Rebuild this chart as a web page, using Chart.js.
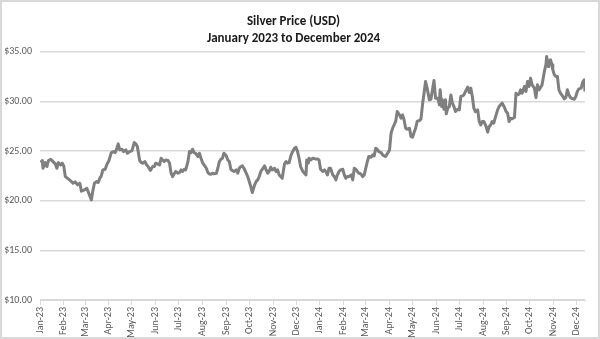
<!DOCTYPE html>
<html>
<head>
<meta charset="utf-8">
<title>Silver Price (USD)</title>
<script src="https://cdn.jsdelivr.net/npm/chart.js@4.4.1/dist/chart.umd.min.js"></script>
<style>
  html, body { margin: 0; padding: 0; background: #fff; }
  #wrap {
    width: 600px;
    height: 339px;
    box-sizing: border-box;
    border: 2px solid #d9d9d9;
    background: #fff;
  }
</style>
</head>
<body>
<div id="wrap"><canvas id="silverChart"></canvas></div>
<script>
// days since 1 Jan 2023
const days = [
  1, 3, 4, 7, 9, 11, 14, 17, 20, 22, 24, 27, 29, 31, 33, 37, 41, 43, 46, 49,
  52, 54, 58, 61, 64, 67, 69, 71, 74, 76, 78, 80, 82, 85, 87, 90, 93, 96, 98, 100,
  102, 104, 107, 109, 112, 114, 117, 120, 123, 125, 127, 130, 132, 134, 137, 139, 141, 144, 147, 149,
  151, 153, 156, 158, 160, 162, 164, 167, 169, 171, 173, 175, 177, 180, 182, 184, 186, 188, 190, 193,
  195, 197, 199, 201, 203, 206, 208, 210, 212, 214, 217, 219, 221, 223, 225, 227, 230, 232, 234, 236,
  238, 240, 243, 245, 247, 249, 251, 253, 256, 258, 260, 262, 264, 266, 269, 271, 273, 275, 277, 280,
  282, 284, 286, 288, 290, 293, 295, 297, 299, 301, 303, 306, 308, 310, 312, 314, 316, 319, 321, 323,
  325, 327, 329, 332, 334, 336, 338, 340, 343, 345, 347, 348, 350, 351, 353, 356, 359, 362, 364, 366,
  369, 371, 373, 375, 377, 379, 382, 384, 386, 388, 390, 392, 395, 397, 399, 401, 403, 406, 408, 410,
  412, 414, 416, 419, 421, 423, 425, 427, 429, 432, 434, 436, 438, 440, 442, 445, 447, 449, 451, 453,
  456, 458, 460, 462, 464, 466, 469, 471, 473, 475, 477, 479, 482, 484, 486, 488, 490, 492, 495, 497,
  499, 501, 503, 505, 508, 510, 512, 514, 516, 519, 521, 522, 524, 525, 527, 529, 530, 532, 534, 536,
  538, 540, 542, 545, 547, 549, 551, 553, 555, 558, 560, 562, 564, 566, 568, 571, 573, 575, 577, 579,
  582, 584, 586, 588, 590, 592, 595, 597, 599, 601, 603, 606, 608, 610, 612, 614, 616, 619, 621, 623,
  625, 627, 629, 632, 634, 636, 638, 640, 642, 645, 647, 649, 651, 653, 655, 658, 660, 661, 663, 664,
  666, 668, 669, 671, 673, 675, 677, 679, 682, 684, 686, 688, 690, 692, 695, 697, 699, 701, 703, 706,
  708, 710, 711
];

const prices = [
  23.84, 24.05, 23.27, 23.84, 23.44, 24.05, 24.18, 23.94, 23.71, 23.27, 23.84, 23.61, 23.78, 23.51, 22.43, 22.2, 21.93, 21.76, 21.9, 21.6,
  21.76, 20.96, 21.09, 21.26, 20.69, 20.08, 21.02, 21.76, 21.93, 21.83, 22.27, 22.5, 23.1, 23.17, 23.61, 24.05, 24.85, 24.95, 24.85, 25.19,
  25.73, 25.12, 25.19, 24.95, 25.12, 24.78, 24.95, 25.05, 25.86, 25.73, 25.46, 24.05, 23.84, 23.78, 23.94, 23.61, 23.44, 23.04, 23.44, 23.44,
  23.78, 23.71, 23.61, 24.28, 24.11, 23.94, 24.11, 24.05, 23.78, 22.77, 22.43, 22.7, 22.94, 22.77, 22.84, 23.1, 22.94, 23.17, 23.1, 23.94,
  24.95, 24.85, 25.19, 24.85, 24.78, 24.45, 24.78, 24.28, 23.84, 23.61, 23.27, 22.84, 22.7, 22.67, 22.77, 22.7, 22.77, 23.27, 23.94, 24.18,
  24.28, 24.78, 24.52, 24.11, 23.94, 23.17, 23.04, 22.94, 23.1, 22.77, 23.27, 23.44, 23.51, 23.27, 22.77, 22.43, 21.93, 21.42, 20.82, 21.6,
  21.93, 22.1, 22.43, 22.94, 23.17, 23.51, 23.1, 22.77, 22.94, 23.37, 23.1, 23.27, 22.94, 23.1, 22.6, 22.43, 22.26, 23.71, 23.94, 23.78,
  23.84, 24.45, 24.85, 25.29, 25.39, 24.95, 24.28, 23.44, 22.94, 22.77, 22.6, 24.11, 23.78, 24.28, 24.11, 24.28, 24.21, 24.21, 24.11, 23.17,
  22.94, 23.1, 22.94, 22.6, 23.27, 23.27, 22.6, 22.43, 22.1, 22.6, 22.94, 23.1, 23.17, 22.6, 22.26, 22.43, 22.43, 22.6, 22.1, 23.27,
  23.17, 22.94, 22.77, 22.67, 22.43, 22.6, 23.27, 23.94, 24.45, 24.38, 24.62, 24.51, 25.29, 25.19, 24.95, 24.85, 24.62, 24.51, 24.45, 24.72,
  25.12, 26.8, 27.3, 27.64, 27.98, 28.98, 28.65, 28.31, 28.65, 28.14, 27.3, 27.2, 27.3, 26.46, 26.4, 26.87, 27.3, 27.98, 28.08, 28.21,
  29.66, 30.83, 32.01, 31.34, 30.16, 30.23, 31.17, 32.11, 30.33, 30.33, 29.66, 31.17, 29.49, 30.16, 29.22, 30.16, 28.75, 29.32, 29.49, 30.66,
  29.82, 29.49, 28.98, 29.22, 29.15, 30.5, 30.56, 30.66, 31.0, 31.44, 30.9, 31.34, 30.5, 29.32, 28.98, 29.15, 27.98, 27.64, 27.98, 27.98,
  27.47, 26.9, 27.47, 27.64, 27.98, 27.81, 28.65, 29.15, 29.49, 29.66, 29.83, 29.39, 28.98, 28.82, 27.98, 28.31, 28.25, 28.38, 30.83, 30.67,
  30.73, 31.17, 30.83, 31.51, 31.0, 32.01, 31.51, 32.35, 31.67, 31.34, 30.4, 31.67, 31.17, 31.41, 31.67, 33.02, 33.69, 34.53, 33.52, 34.03,
  34.19, 33.69, 33.19, 32.68, 32.51, 32.51, 31.17, 30.83, 30.5, 30.26, 30.4, 31.17, 30.67, 30.4, 30.26, 30.23, 30.5, 31.0, 31.27, 31.34,
  31.94, 32.18, 31.0
];

// first day of each month, days since 1 Jan 2023
const monthStarts = [
  0, 31, 59, 90, 120, 151, 181, 212, 243, 273, 304, 334,
  365, 396, 425, 456, 486, 517, 547, 578, 609, 639, 670, 700
];
const monthLabels = [
  "Jan-23", "Feb-23", "Mar-23", "Apr-23", "May-23", "Jun-23",
  "Jul-23", "Aug-23", "Sep-23", "Oct-23", "Nov-23", "Dec-23",
  "Jan-24", "Feb-24", "Mar-24", "Apr-24", "May-24", "Jun-24",
  "Jul-24", "Aug-24", "Sep-24", "Oct-24", "Nov-24", "Dec-24"
];

const titleLines = ["Silver Price (USD)", "January 2023 to December 2024"];

document.addEventListener("DOMContentLoaded", function () {
  const labelFont = { family: "Carlito, Lato, sans-serif", size: 10 };
  const points = days.map((d, i) => ({ x: d, y: prices[i] }));

  const ctx = document.getElementById("silverChart").getContext("2d");
  const silverChart = new Chart(ctx, {
    type: "line",
    data: {
      datasets: [
        {
          label: "Silver",
          data: points,
          borderColor: "#7f7f7f",
          borderWidth: 3,
          borderJoinStyle: "round",
          pointRadius: 0,
          tension: 0,
          fill: false,
        },
      ],
    },
    options: {
      responsive: true,
      maintainAspectRatio: false,
      animation: false,
      layout: {
        padding: { left: 0, right: 13, top: 0, bottom: 0 },
      },
      scales: {
        x: {
          type: "linear",
          min: 0,
          max: days[days.length - 1],
          afterBuildTicks: function (axis) {
            axis.ticks = monthStarts.map((v) => ({ value: v }));
          },
          afterFit: function (axis) {
            axis.height = 37;
          },
          ticks: {
            autoSkip: false,
            minRotation: 90,
            maxRotation: 90,
            padding: 2,
            color: "#595959",
            font: labelFont,
            callback: function (value, index) {
              return monthLabels[index];
            },
          },
          grid: {
            drawOnChartArea: false,
            drawTicks: true,
            tickLength: 5,
            color: "#d9d9d9",
          },
          border: {
            color: "#d9d9d9",
          },
        },
        y: {
          min: 10,
          max: 35,
          afterFit: function (axis) {
            axis.width = 38;
          },
          ticks: {
            stepSize: 5,
            padding: 8,
            color: "#595959",
            font: labelFont,
            callback: function (value) {
              return "$" + value.toFixed(2);
            },
          },
          grid: {
            color: "#d9d9d9",
            lineWidth: 1.5,
            drawTicks: false,
          },
          border: {
            display: false,
          },
        },
      },
      plugins: {
        legend: {
          display: false,
        },
        tooltip: {
          enabled: false,
        },
        title: {
          display: true,
          text: titleLines,
          color: "#1a1a1a",
          font: {
            family: "Carlito, Lato, sans-serif",
            size: 13,
            weight: "bold",
            lineHeight: 1.3,
          },
          padding: { top: 11, bottom: 5 },
        },
      },
    },
  });
});
</script>
</body>
</html>
